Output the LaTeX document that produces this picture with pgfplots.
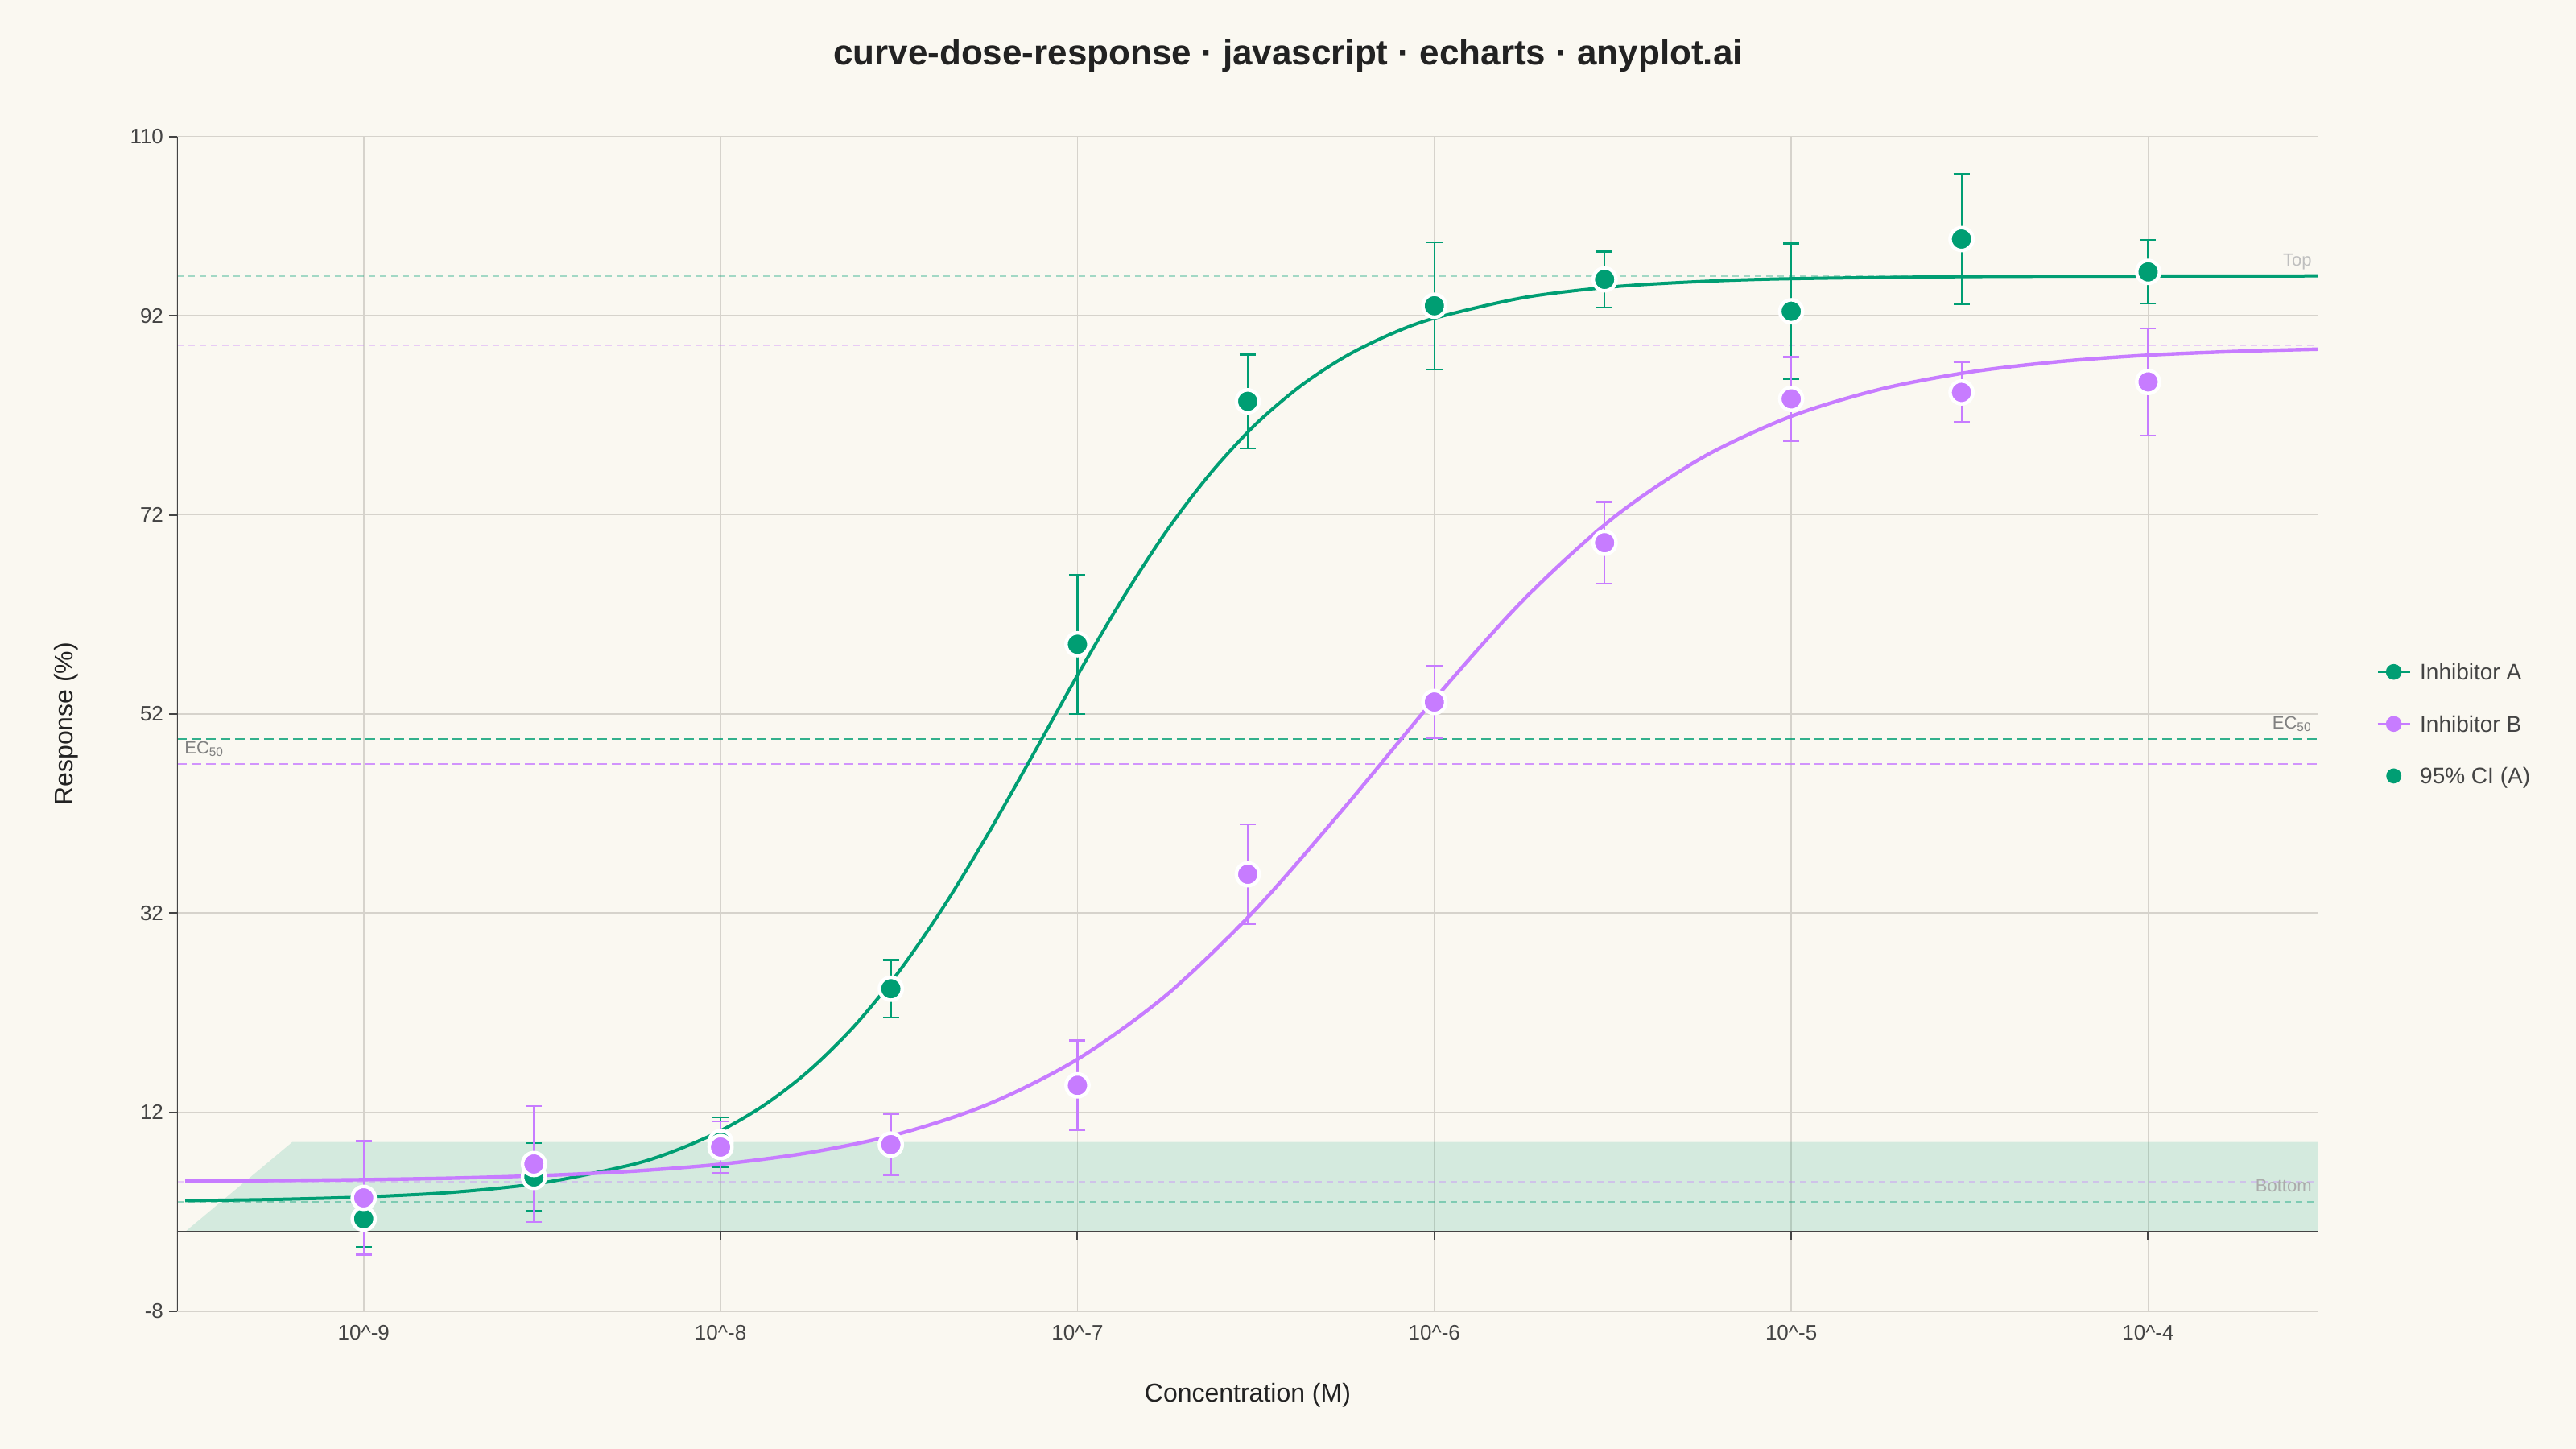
\documentclass[border=0pt]{standalone}
\usepackage{pgfplots}
\pgfplotsset{compat=1.18}
\usepackage{fontspec}
\setmainfont{Liberation Sans}
\definecolor{cA}{HTML}{009E73}
\definecolor{cB}{HTML}{C77CFF}
\definecolor{bg}{HTML}{FAF8F1}
\definecolor{gridc}{HTML}{D6D3CC}
\definecolor{axc}{HTML}{444444}
\definecolor{txt}{HTML}{444444}
\definecolor{ttl}{HTML}{222222}
\begin{document}
\begin{tikzpicture}
\fill[bg] (0,0) rectangle (1600bp,900bp);
\begin{axis}[
  at={(110bp,85.5bp)}, anchor=south west,
  scale only axis, width=1330bp, height=729.7bp,
  xmode=log, xmin=3e-10, xmax=3e-4,
  ymin=-8, ymax=110,
  xtick={1e-9,1e-8,1e-7,1e-6,1e-5,1e-4},
  xticklabels={{10\textasciicircum-9},{10\textasciicircum-8},{10\textasciicircum-7},{10\textasciicircum-6},{10\textasciicircum-5},{10\textasciicircum-4}},
  xminorticks=false,
  ytick={-8,12,32,52,72,92,110},
  yticklabels={-8,12,32,52,72,92,110},
  grid=major, major grid style={gridc, line width=0.8bp},
  axis line style={draw=none},
  ytick pos=left, tick align=outside, major tick length=5bp,
  ytick style={axc, line width=1bp},
  xtick style={draw=none},
  tick label style={font=\fontsize{13bp}{15bp}\selectfont, text=txt},
  title={curve-dose-response · javascript · echarts · anyplot.ai},
  every axis title shift=0pt,
  every axis title/.style={at={(axis description cs:0.5188,1.0690)}, anchor=center, font=\bfseries\fontsize{22bp}{26bp}\selectfont, text=ttl},
  xlabel={Concentration (M)}, ylabel={Response (\%)},
  every axis x label/.style={at={(axis description cs:0.5,-0.0713)}, anchor=center, font=\fontsize{16bp}{19bp}\selectfont, text=ttl},
  every axis y label/.style={at={(axis description cs:-0.0519,0.5)}, rotate=90, anchor=center, font=\fontsize{16bp}{19bp}\selectfont, text=ttl},
  legend style={at={(axis description cs:1.0270,0.5)}, anchor=west, draw=none, fill=none, inner sep=0pt,
    font=\fontsize{14bp}{16bp}\selectfont, text=txt, row sep=22.3bp,
    nodes={inner sep=0pt, text height=10bp, text depth=0bp},
    /tikz/every odd column/.append style={column sep=5.5bp}},
  legend cell align=left,
]
% CI band (A)
\addplot[draw=none, fill=cA, fill opacity=0.15, forget plot] coordinates {(3.162e-10,0) (6.31e-10,9) (3e-4,9) (3e-4,0)} -- cycle;
% reference lines
\addplot[cA, opacity=0.35, line width=0.9bp, dash pattern=on 4bp off 3bp, forget plot] coordinates {(3e-10,96) (3e-4,96)};
\addplot[cB, opacity=0.35, line width=0.9bp, dash pattern=on 4bp off 3bp, forget plot] coordinates {(3e-10,89) (3e-4,89)};
\addplot[cA, opacity=0.4, line width=0.9bp, dash pattern=on 4bp off 3bp, forget plot] coordinates {(3e-10,3) (3e-4,3)};
\addplot[cB, opacity=0.35, line width=0.9bp, dash pattern=on 4bp off 3bp, forget plot] coordinates {(3e-10,5) (3e-4,5)};
\addplot[cA, opacity=0.8, line width=1.2bp, dash pattern=on 6bp off 3bp, forget plot] coordinates {(3e-10,49.5) (3e-4,49.5)};
\addplot[cB, opacity=0.8, line width=1.2bp, dash pattern=on 6bp off 3bp, forget plot] coordinates {(3e-10,47) (3e-4,47)};
% x axis line at 0 and left axis line
\draw[axc, line width=1.1bp] (axis cs:3e-10,0) -- (axis cs:3e-4,0);
\draw[axc, line width=1.1bp] (rel axis cs:0,0) -- (rel axis cs:0,1);
\draw[axc, line width=1bp] (axis cs:1e-9,0) -- ([yshift=-5bp]axis cs:1e-9,0);
\draw[axc, line width=1bp] (axis cs:1e-8,0) -- ([yshift=-5bp]axis cs:1e-8,0);
\draw[axc, line width=1bp] (axis cs:1e-7,0) -- ([yshift=-5bp]axis cs:1e-7,0);
\draw[axc, line width=1bp] (axis cs:1e-6,0) -- ([yshift=-5bp]axis cs:1e-6,0);
\draw[axc, line width=1bp] (axis cs:1e-5,0) -- ([yshift=-5bp]axis cs:1e-5,0);
\draw[axc, line width=1bp] (axis cs:1e-4,0) -- ([yshift=-5bp]axis cs:1e-4,0);
% annotation labels
\node[anchor=base east, inner sep=0pt, text=black!25, font=\fontsize{11bp}{13bp}\selectfont] at (axis cs:3e-4,97.0) [xshift=-4bp] {Top};
\node[anchor=base east, inner sep=0pt, text=black!50, font=\fontsize{11bp}{13bp}\selectfont] at (axis cs:3e-4,50.5) [xshift=-4bp] {EC\textsubscript{50}};
\node[anchor=base west, inner sep=0pt, text=black!50, font=\fontsize{11bp}{13bp}\selectfont] at (axis cs:3e-10,48.0) [xshift=4.5bp] {EC\textsubscript{50}};
\node[anchor=base east, inner sep=0pt, text=black!33, font=\fontsize{11bp}{13bp}\selectfont] at (axis cs:3e-4,4.0) [xshift=-4bp] {Bottom};
% fitted curves
\addplot[cA, line width=2bp, smooth, forget plot] coordinates {
(3.162e-10,3.12) (5.623e-10,3.24) (1e-9,3.49) (1.778e-9,3.96) (3.162e-9,4.90) (5.623e-9,6.72)
(7.499e-9,8.17) (1e-8,10.14) (1.334e-8,12.78) (1.778e-8,16.24) (2.371e-8,20.66) (3.162e-8,26.13)
(4.217e-8,32.64) (5.623e-8,39.99) (7.499e-8,47.88) (1e-7,55.88) (1.334e-7,63.51) (1.778e-7,70.39)
(2.371e-7,76.27) (3.162e-7,81.12) (4.217e-7,84.94) (5.623e-7,87.89) (7.499e-7,90.11) (1e-6,91.75)
(1.778e-6,93.82) (3.162e-6,94.90) (5.623e-6,95.44) (1e-5,95.72) (3.162e-5,95.93) (1e-4,95.98) (3e-4,96.00)};
\addplot[cB, line width=2.2bp, smooth, forget plot] coordinates {
(3.162e-10,5.08) (5.623e-10,5.14) (1e-9,5.23) (1.778e-9,5.38) (3.162e-9,5.64) (5.623e-9,6.07)
(1e-8,6.78) (1.778e-8,7.95) (3.162e-8,9.83) (5.623e-8,12.80) (1e-7,17.32) (1.778e-7,23.79)
(3.162e-7,32.40) (5.623e-7,42.67) (1e-6,53.47) (1.778e-6,63.47) (3.162e-6,71.67) (5.623e-6,77.73)
(1e-5,81.90) (1.778e-5,84.62) (3.162e-5,86.34) (5.623e-5,87.39) (1e-4,88.04) (1.778e-4,88.42) (3e-4,88.64)};
% data points A
\addplot[only marks, mark=*, mark size=7.1bp, mark options={fill=cA, draw=white, line width=2.2bp},
  legend image code/.code={\draw[cA, line width=1.5bp] (0bp,0bp) -- (20bp,0bp); \fill[cA] (10bp,0bp) circle (4.7bp);},
  error bars/.cd, y dir=both, y explicit, error mark=-,
  error bar style={cA, line width=1.1bp},
  error mark options={rotate=90, cA, mark size=5bp, line width=1.1bp}]
  coordinates {
  (1e-9,1.3) +- (0,2.8)
  (3e-9,5.5) +- (0,3.4)
  (1e-8,9.0) +- (0,2.5)
  (3e-8,24.4) +- (0,2.9)
  (1e-7,59.0) +- (0,7.0)
  (3e-7,83.4) +- (0,4.7)
  (1e-6,93.0) +- (0,6.4)
  (3e-6,95.65) +- (0,2.8)
  (1e-5,92.45) +- (0,6.8)
  (3e-5,99.7) +- (0,6.55)
  (1e-4,96.4) +- (0,3.2)
  };
\addlegendentry{Inhibitor A}
% data points B
\addplot[only marks, mark=*, mark size=7.1bp, mark options={fill=cB, draw=white, line width=2.2bp},
  legend image code/.code={\draw[cB, line width=1.5bp] (0bp,0bp) -- (20bp,0bp); \fill[cB] (10bp,0bp) circle (4.7bp);},
  error bars/.cd, y dir=both, y explicit, error mark=-,
  error bar style={cB, line width=1.1bp},
  error mark options={rotate=90, cB, mark size=5bp, line width=1.1bp}]
  coordinates {
  (1e-9,3.4) +- (0,5.7)
  (3e-9,6.8) +- (0,5.8)
  (1e-8,8.5) +- (0,2.6)
  (3e-8,8.75) +- (0,3.1)
  (1e-7,14.7) +- (0,4.5)
  (3e-7,35.9) +- (0,5.0)
  (1e-6,53.2) +- (0,3.65)
  (3e-6,69.2) +- (0,4.1)
  (1e-5,83.65) +- (0,4.2)
  (3e-5,84.3) +- (0,3.0)
  (1e-4,85.35) +- (0,5.4)
  };
\addlegendentry{Inhibitor B}
\addlegendimage{legend image code/.code={\path[draw=none] (0bp,0bp) -- (20bp,0bp); \fill[cA, draw=none] (10bp,0bp) circle (4.7bp);}}
\addlegendentry{95\% CI (A)}
\end{axis}
\pgfresetboundingbox
\path (0,0) rectangle (1600bp,900bp);
\end{tikzpicture}
\end{document}
